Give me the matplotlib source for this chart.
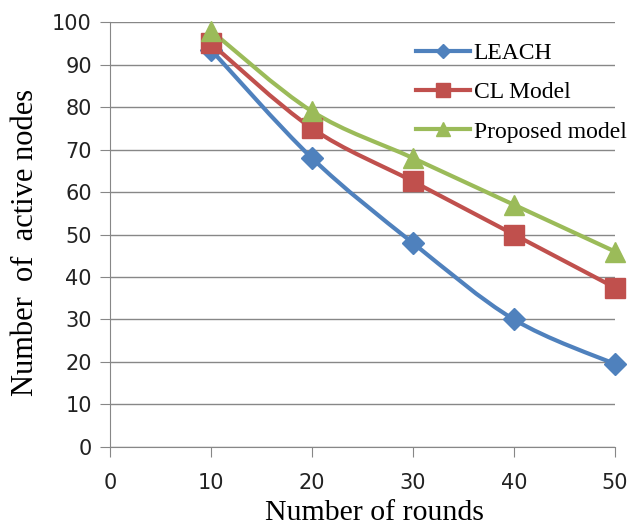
import matplotlib.pyplot as plt
from matplotlib.path import Path
from matplotlib.patches import PathPatch
from matplotlib.lines import Line2D

rounds = [10, 20, 30, 40, 50]
leach = [93.5, 68, 48, 30, 19.5]
cl_model = [95, 75, 62.5, 50, 37.5]
proposed = [98, 79, 68, 57, 46]

series = [
    ("LEACH", leach, "#4F81BD", "D", 11, 7),
    ("CL Model", cl_model, "#C0504D", "s", 14, 10),
    ("Proposed model", proposed, "#9BBB59", "^", 15, 10),
]


def smooth_path(xs, ys, t=1/6):
    # excel-like smoothed line: cubic bezier segments through the points
    verts = [(xs[0], ys[0])]
    codes = [Path.MOVETO]
    n = len(xs)
    for i in range(n - 1):
        x0, y0 = xs[max(i - 1, 0)], ys[max(i - 1, 0)]
        x1, y1 = xs[i], ys[i]
        x2, y2 = xs[i + 1], ys[i + 1]
        x3, y3 = xs[min(i + 2, n - 1)], ys[min(i + 2, n - 1)]
        c1 = (x1 + (x2 - x0) * t, y1 + (y2 - y0) * t)
        c2 = (x2 - (x3 - x1) * t, y2 - (y3 - y1) * t)
        verts += [c1, c2, (x2, y2)]
        codes += [Path.CURVE4] * 3
    return Path(verts, codes)


fig = plt.figure(figsize=(6.32, 5.27), dpi=100)
ax = fig.add_axes([0.174, 0.152, 0.799, 0.806])

handles = []
for name, vals, col, mk, ms, lms in series:
    ax.add_patch(PathPatch(smooth_path(rounds, vals), facecolor="none",
                           edgecolor=col, lw=3, zorder=3, clip_on=False))
    ax.plot(rounds, vals, ls="none", marker=mk, ms=ms, color=col, zorder=4, clip_on=False)
    handles.append(Line2D([], [], color=col, lw=3, marker=mk, ms=lms))

ax.set_xlim(0, 50)
ax.set_ylim(0, 100)
ax.set_xticks(range(0, 51, 10))
ax.set_yticks(range(0, 101, 10))
ax.grid(axis="y", color="#878787", lw=1)
ax.set_axisbelow(True)
for s in ["top", "right"]:
    ax.spines[s].set_visible(False)
for s in ["left", "bottom"]:
    ax.spines[s].set_color("#878787")
ax.tick_params(colors="#878787", length=7, labelcolor="#222222", labelsize=15, pad=6)
for lbl in ax.get_xticklabels() + ax.get_yticklabels():
    lbl.set_family("DejaVu Sans")
ax.tick_params(axis="x", pad=12)

ax.set_xlabel("Number of rounds", family="Liberation Serif", fontsize=21.5)
ax.set_ylabel("Number  of  active nodes", family="Liberation Serif", fontsize=22)
ax.xaxis.set_label_coords(0.523, -0.124)
ax.yaxis.set_label_coords(-0.138, 0.482)

ax.legend(handles, [s[0] for s in series], loc="upper left", bbox_to_anchor=(0.606, 0.952),
          frameon=False, prop={"family": "Liberation Serif", "size": 17},
          handlelength=2.3, handletextpad=0.15, labelspacing=0.75, borderpad=0,
          borderaxespad=0)

fig.savefig("out.png", dpi=100)
